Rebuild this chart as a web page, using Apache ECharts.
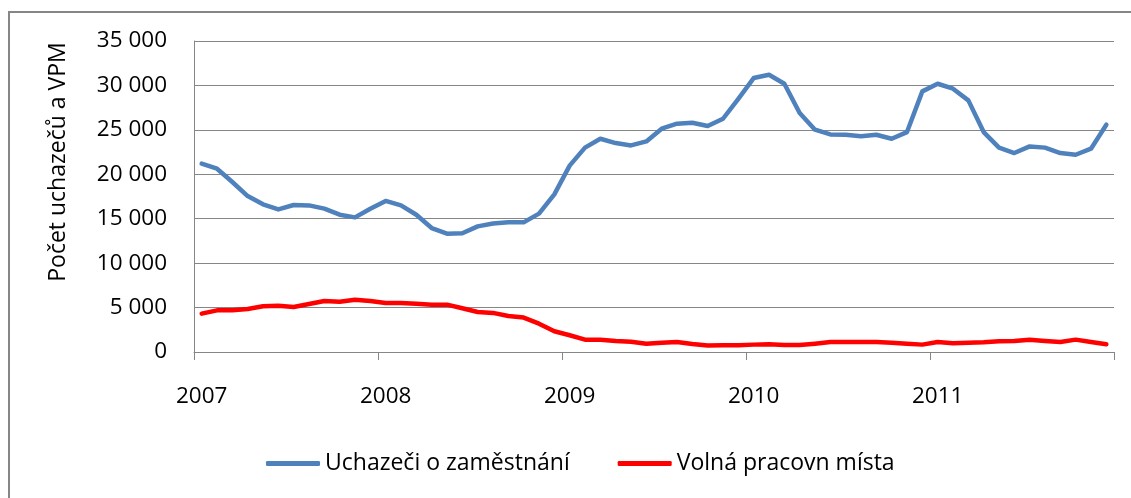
<!DOCTYPE html>
<html>
<head>
<meta charset="utf-8">
<script src="https://cdn.jsdelivr.net/npm/echarts@6/dist/echarts.min.js"></script>
<style>
html,body{margin:0;padding:0;background:#fff;}
#c{width:1131px;height:498px;}
</style>
</head>
<body>
<div id="c"></div>
<script>
var years = ['2007', '2008', '2009', '2010', '2011'];
var months = ['01','02','03','04','05','06','07','08','09','10','11','12'];
var seriesNames = ['Uchazeči o zaměstnání', 'Volná pracovn místa'];
var yTitle = 'Počet uchazečů a VPM';
var uchazeci = [21200,20630,19130,17550,16620,16050,16540,16500,16130,15450,
  15150,16130,17000,16500,15450,13950,13320,13360,14140,14470,
  14590,14590,15570,17740,20970,23000,24000,23510,23250,23700,
  25130,25690,25800,25430,26250,28500,30830,31200,30190,26900,
  25020,24490,24450,24270,24450,24000,24750,29330,30190,29630,
  28320,24750,23000,22390,23140,23000,22390,22200,22880,25580];
var volna = [4320,4690,4690,4840,5140,5210,5060,5400,5740,5660,
  5890,5740,5510,5510,5440,5330,5330,4920,4500,4400,
  4050,3870,3190,2330,1880,1390,1370,1240,1160,940,
  1050,1120,900,720,760,760,830,870,790,790,
  940,1120,1120,1120,1120,1050,940,830,1120,980,
  1050,1090,1200,1240,1390,1240,1120,1390,1120,870];

var categories = [];
years.forEach(function (y) { months.forEach(function (m) { categories.push(y + '-' + m); }); });

var FONT = '"Open Sans", "Liberation Sans", sans-serif';
var GRAY = '#868686';

var chart = echarts.init(document.getElementById('c'), null, {renderer: 'canvas'});
chart.setOption({
  animation: false,
  backgroundColor: '#fff',
  textStyle: {fontFamily: FONT, color: '#000'},
  grid: {left: 194, right: 17, top: 41, bottom: 146, containLabel: false},
  legend: {
    left: 266, top: 452, padding: 0,
    itemWidth: 54, itemHeight: 5, itemGap: 48,
    icon: 'roundRect',
    textStyle: {fontFamily: FONT, fontSize: 23, color: '#000'},
    data: seriesNames
  },
  xAxis: [{
    type: 'category',
    data: categories,
    boundaryGap: true,
    axisLine: {show: true, lineStyle: {color: GRAY, width: 1}},
    axisTick: {show: false},
    axisLabel: {
      interval: 11, margin: 33, fontSize: 22.5, fontFamily: FONT, color: '#000',
      formatter: function (v) { return v.slice(0, 4); }
    },
    splitLine: {show: false}
  }, {
    type: 'value', position: 'bottom',
    min: 0, max: categories.length, interval: months.length,
    axisLine: {show: false},
    axisTick: {show: true, length: 8, lineStyle: {color: GRAY, width: 1}},
    axisLabel: {show: false},
    splitLine: {show: false}
  }],
  yAxis: {
    type: 'value', min: 0, max: 35000, interval: 5000,
    axisLine: {show: true, lineStyle: {color: GRAY, width: 1}},
    axisTick: {show: false},
    axisLabel: {
      margin: 27, fontSize: 22.5, fontFamily: FONT, color: '#000',
      formatter: function (v) { return String(v).replace(/\B(?=(\d{3})+(?!\d))/g, ' '); }
    },
    splitLine: {show: true, lineStyle: {color: GRAY, width: 1}}
  },
  graphic: [
    {type: 'rect', silent: true, z: -1,
      shape: {x: 9, y: 12, width: 1300, height: 700},
      style: {fill: 'none', stroke: GRAY, lineWidth: 2}},
    {type: 'text', x: 58, y: 162, rotation: Math.PI / 2,
      style: {text: yTitle, fontSize: 23, fontFamily: FONT, fill: '#000', align: 'center', verticalAlign: 'middle'}}
  ],
  series: [
    {name: seriesNames[0], type: 'line', xAxisIndex: 0, data: uchazeci, symbol: 'none', smooth: false,
      lineStyle: {color: '#4F81BD', width: 4.5, cap: 'round', join: 'round'},
      itemStyle: {color: '#4F81BD'}},
    {name: seriesNames[1], type: 'line', xAxisIndex: 0, data: volna, symbol: 'none', smooth: false,
      lineStyle: {color: '#FF0000', width: 4.5, cap: 'round', join: 'round'},
      itemStyle: {color: '#FF0000'}}
  ]
});
</script>
</body>
</html>
